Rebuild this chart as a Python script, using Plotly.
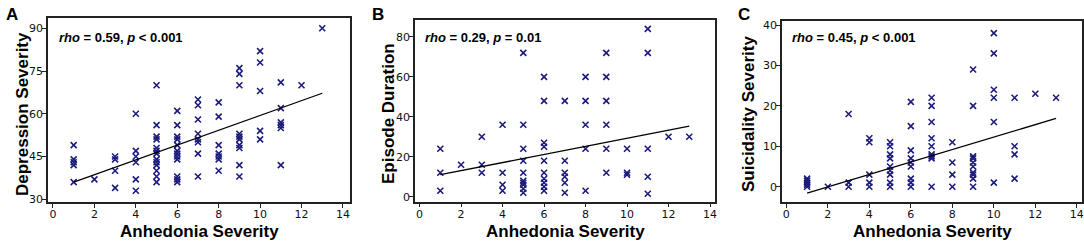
import numpy as np
import plotly.graph_objects as go

W, H = 1084, 245

# ---- Panel A: Anhedonia vs Depression Severity ----
a_x = [1]*5 + [2] + [3]*4 + [4]*6 + [5]*13 + [6]*12 + [7]*8 + [8]*7 + [9]*10 + [10]*5 + [11]*6 + [12] + [13]
a_y = [49, 44, 43, 42, 36,
       37,
       45, 44, 40, 34,
       60, 47, 45, 43, 37, 33,
       70, 56, 52, 51, 48, 47, 46, 44, 43, 42, 40, 38, 36,
       61, 56, 52, 51, 49, 47, 46, 45, 44, 38, 37, 36,
       65, 63, 58, 53, 51, 50, 46, 38,
       64, 59, 49, 46, 45, 44, 40,
       76, 74, 70, 53, 52, 51, 49, 48, 42, 38,
       82, 78, 68, 54, 51,
       71, 62, 57, 56, 55, 42,
       70,
       90]

# ---- Panel B: Anhedonia vs Episode Duration ----
b_x = [1]*3 + [2] + [3]*3 + [4]*4 + [5]*10 + [6]*10 + [7]*6 + [8]*5 + [9]*6 + [10]*3 + [11]*5 + [12] + [13]
b_y = [24, 12, 3,
       16,
       30, 16, 12,
       36, 12, 6, 3,
       72, 36, 24, 18, 12, 8, 7, 6, 4, 2,
       60, 48, 27, 25, 18, 12, 9, 7, 5, 3,
       48, 18, 12, 10, 7, 2,
       60, 48, 36, 24, 3,
       72, 60, 48, 36, 24, 12,
       24, 12, 11,
       84, 72, 24, 10, 1.5,
       30,
       30]

# ---- Panel C: Anhedonia vs Suicidality Severity ----
c_x = [1]*5 + [2] + [3]*3 + [4]*5 + [5]*9 + [6]*9 + [7]*9 + [8]*4 + [9]*10 + [10]*6 + [11]*4 + [12] + [13]
c_y = [2, 1.5, 1, 0.5, 0,
       0,
       18, 1, 0,
       12, 11, 3, 1, 0,
       11, 10, 8, 7, 5, 4, 3, 1, 0,
       21, 15, 9, 7, 6, 5, 2, 1, 0,
       22, 20, 16, 12, 10, 8, 7.5, 7, 0,
       11, 6, 3, 0,
       29, 20, 7.5, 7, 6, 5, 3.5, 3, 2, 0,
       38, 33, 24, 22, 16, 1,
       22, 10, 8, 2,
       23,
       22]

# fitted regression lines (intercept, slope)
fit_intercepts = [33.4, 8.98, -3.14]
fit_slopes = [2.6, 2.025, 1.542]

y_titles = ["Depression Severity", "Episode Duration", "Suicidality Severity"]
x_title = "Anhedonia Severity"
panel_letters = ["A", "B", "C"]
stats_text = ["<b><i>rho</i> = 0.59, <i>p</i> &lt; 0.001</b>",
              "<b><i>rho</i> = 0.29, <i>p</i> = 0.01</b>",
              "<b><i>rho</i> = 0.45, <i>p</i> &lt; 0.001</b>"]
y_ticks = [[30, 45, 60, 75, 90], [0, 20, 40, 60, 80], [0, 10, 20, 30, 40]]
x_ticks = [0, 2, 4, 6, 8, 10, 12, 14]

# layout geometry (pixels)
frames = [(48, 350, 18, 202), (415, 715, 19.5, 201.7), (782, 1082, 21, 202.3)]
x_ranges = [[-0.24, 14.34], [-0.22, 14.24], [-0.21, 14.25]]
y_ranges = [[29.05, 93.6], [-2.5, 88.7], [-3.86, 41.0]]
ytitle_x = [22, 388, 748]
letter_x = [4, 370, 736]
stats_x = [57, 423, 790]

marker_color = "#1c1c7e"
fig = go.Figure()
data = [(a_x, a_y), (b_x, b_y), (c_x, c_y)]

for i, (xs, ys) in enumerate(data):
    sfx = "" if i == 0 else str(i + 1)
    xa, ya = "x" + sfx, "y" + sfx
    fig.add_trace(go.Scatter(x=xs, y=ys, mode="markers", xaxis=xa, yaxis=ya,
                             marker=dict(symbol="x-thin", size=6, color=marker_color,
                                         line=dict(width=1.6, color=marker_color)),
                             showlegend=False, hoverinfo="x+y"))
    lx = np.array([min(xs), max(xs)], float)
    fig.add_trace(go.Scatter(x=lx, y=fit_intercepts[i] + fit_slopes[i] * lx, mode="lines",
                             xaxis=xa, yaxis=ya,
                             line=dict(color="black", width=1.3), showlegend=False,
                             hoverinfo="skip"))
    l, r, t, b = frames[i]
    axis_common = dict(showline=True, mirror=True, linecolor="#222", linewidth=1.5,
                       ticks="outside", ticklen=4, tickwidth=1, tickcolor="#222",
                       showgrid=False, zeroline=False, automargin=False,
                       ticklabelstandoff=-3,
                       tickfont=dict(family="DejaVu Sans", size=11, color="#111"))
    fig.layout["xaxis" + sfx] = dict(domain=[l / W, r / W], range=x_ranges[i],
                                     tickvals=x_ticks, anchor=ya, **axis_common)
    fig.layout["yaxis" + sfx] = dict(domain=[1 - b / H, 1 - t / H], range=y_ranges[i],
                                     tickvals=y_ticks[i], anchor=xa, **axis_common)
    # axis titles
    fig.add_annotation(text="<b>" + x_title + "</b>", xref="paper", yref="paper",
                       x=((l + r) / 2) / W, y=1 - 231 / H, showarrow=False,
                       xanchor="center", yanchor="middle",
                       font=dict(family="Liberation Sans", size=17, color="black"))
    fig.add_annotation(text="<b>" + y_titles[i] + "</b>", xref="paper", yref="paper",
                       x=ytitle_x[i] / W, y=1 - 114 / H, showarrow=False, textangle=-90,
                       xanchor="center", yanchor="middle",
                       font=dict(family="Liberation Sans", size=17, color="black"))
    fig.add_annotation(text="<b>" + panel_letters[i] + "</b>", xref="paper", yref="paper",
                       x=letter_x[i] / W, y=1 - 3 / H, showarrow=False,
                       xanchor="left", yanchor="top",
                       font=dict(family="Liberation Sans", size=17, color="black"))
    fig.add_annotation(text=stats_text[i], xref="paper", yref="paper",
                       x=stats_x[i] / W, y=1 - 37 / H, showarrow=False,
                       xanchor="left", yanchor="middle",
                       font=dict(family="Liberation Sans", size=13, color="black"))

fig.update_layout(width=W, height=H, margin=dict(l=0, r=0, t=0, b=0, autoexpand=False),
                  paper_bgcolor="white", plot_bgcolor="white")
fig.write_html("out.html", config={"displayModeBar": False},
               post_script="document.body.style.margin='0';document.body.style.overflow='hidden';")
